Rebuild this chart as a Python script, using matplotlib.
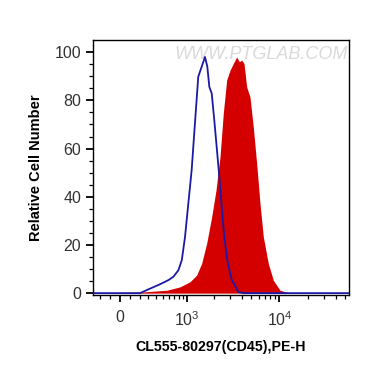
#!/usr/bin/env python3
"""Flow cytometry overlay: CD45 staining vs isotype control on a biexponential axis."""

import numpy as np
import matplotlib
matplotlib.use("Agg")
import matplotlib.pyplot as plt
from matplotlib.ticker import FixedLocator, NullFormatter

plt.rcParams["font.family"] = ["Liberation Sans", "DejaVu Sans"]

# isotype control (blue outline)
ctrl_x = [-286, 205, 298, 461, 597, 690, 793, 870, 949, 1035, 1129, 1230, 1339, 1459,
          1588, 1685, 1773, 1882, 1994, 2131, 2275, 2416, 2573, 2773, 3095, 3642, 4120, 55000]
ctrl_y = [0, 0, 1.5, 3.7, 5.4, 6.8, 9.5, 13.7, 23.4, 37.2, 51, 70.5, 89.8, 93.9,
          98, 94, 85.6, 82.9, 73, 60.7, 48.3, 35.8, 23.4, 13.7, 5.5, 0.5, 0, 0]

# CD45 stained sample (red fill)
cd45_x = [-286, 239, 569, 828, 1081, 1286, 1459, 1657, 1882, 2094, 2316, 2512, 2732, 2967,
          3221, 3501, 3735, 3961, 4190, 4474, 4853, 5265, 5723, 6211, 6737, 7617, 8607,
          10146, 12970, 55000]
cd45_y = [0, 0.5, 1.2, 2.6, 4.7, 7.5, 12.3, 20.6, 31.7, 42.7, 56.6, 74.6, 88.4, 92.5,
          95.3, 98, 96, 96.7, 95.3, 85.6, 81.5, 69, 53.8, 37.2, 23.4, 12.3, 5.4,
          1.2, 0, 0]

x_major = [0, 1000, 10000]
x_labels = ["0", r"$\mathregular{10^3}$", r"$\mathregular{10^4}$"]
x_minor = [-200, -100, 100, 200, 300, 400, 500, 600, 700, 800, 900,
           2000, 3000, 4000, 5000, 6000, 7000, 8000, 9000,
           20000, 30000, 40000, 50000]

W = 402.0  # linear width of the arcsinh display


def fwd(v):
    return np.arcsinh(np.asarray(v, dtype=float) / W)


def inv(v):
    return W * np.sinh(np.asarray(v, dtype=float))


fig = plt.figure(figsize=(3.70, 3.67), dpi=100)
ax = fig.add_axes([0.2514, 0.196, 0.6916, 0.696])
ax.set_xscale("function", functions=(fwd, inv))

ax.fill_between(cd45_x, cd45_y, 0, color="#d40000", lw=0, zorder=2)
ax.plot(ctrl_x, ctrl_y, color="#1a1aa6", lw=1.3, zorder=3)

ax.set_xlim(-286, 55000)
ax.set_ylim(-0.8, 105.2)

ax.xaxis.set_major_locator(FixedLocator(x_major))
ax.set_xticklabels(x_labels)
ax.xaxis.set_minor_locator(FixedLocator(x_minor))
ax.xaxis.set_minor_formatter(NullFormatter())
ax.set_yticks([0, 20, 40, 60, 80, 100])
ax.yaxis.set_minor_locator(FixedLocator(np.arange(0, 101, 5)))

ax.tick_params(axis="both", which="major", direction="out", length=5, width=1.3,
               labelsize=11.5, labelcolor="#333333")
ax.tick_params(axis="both", which="minor", direction="out", length=2.8, width=0.9)
ax.tick_params(axis="x", which="major", pad=6)

for sp in ax.spines.values():
    sp.set_linewidth(1.0)

ax.set_xlabel("CL555-80297(CD45),PE-H", fontsize=10.2, fontweight="bold", labelpad=8)
ax.set_ylabel("Relative Cell Number", fontsize=10.5, fontweight="bold", labelpad=8)

ax.text(0.997, 0.975, "WWW.PTGLAB.COM", transform=ax.transAxes, ha="right", va="top",
        fontsize=13, color="#dadada", style="italic", zorder=1)

fig.savefig("out.png", dpi=100)
